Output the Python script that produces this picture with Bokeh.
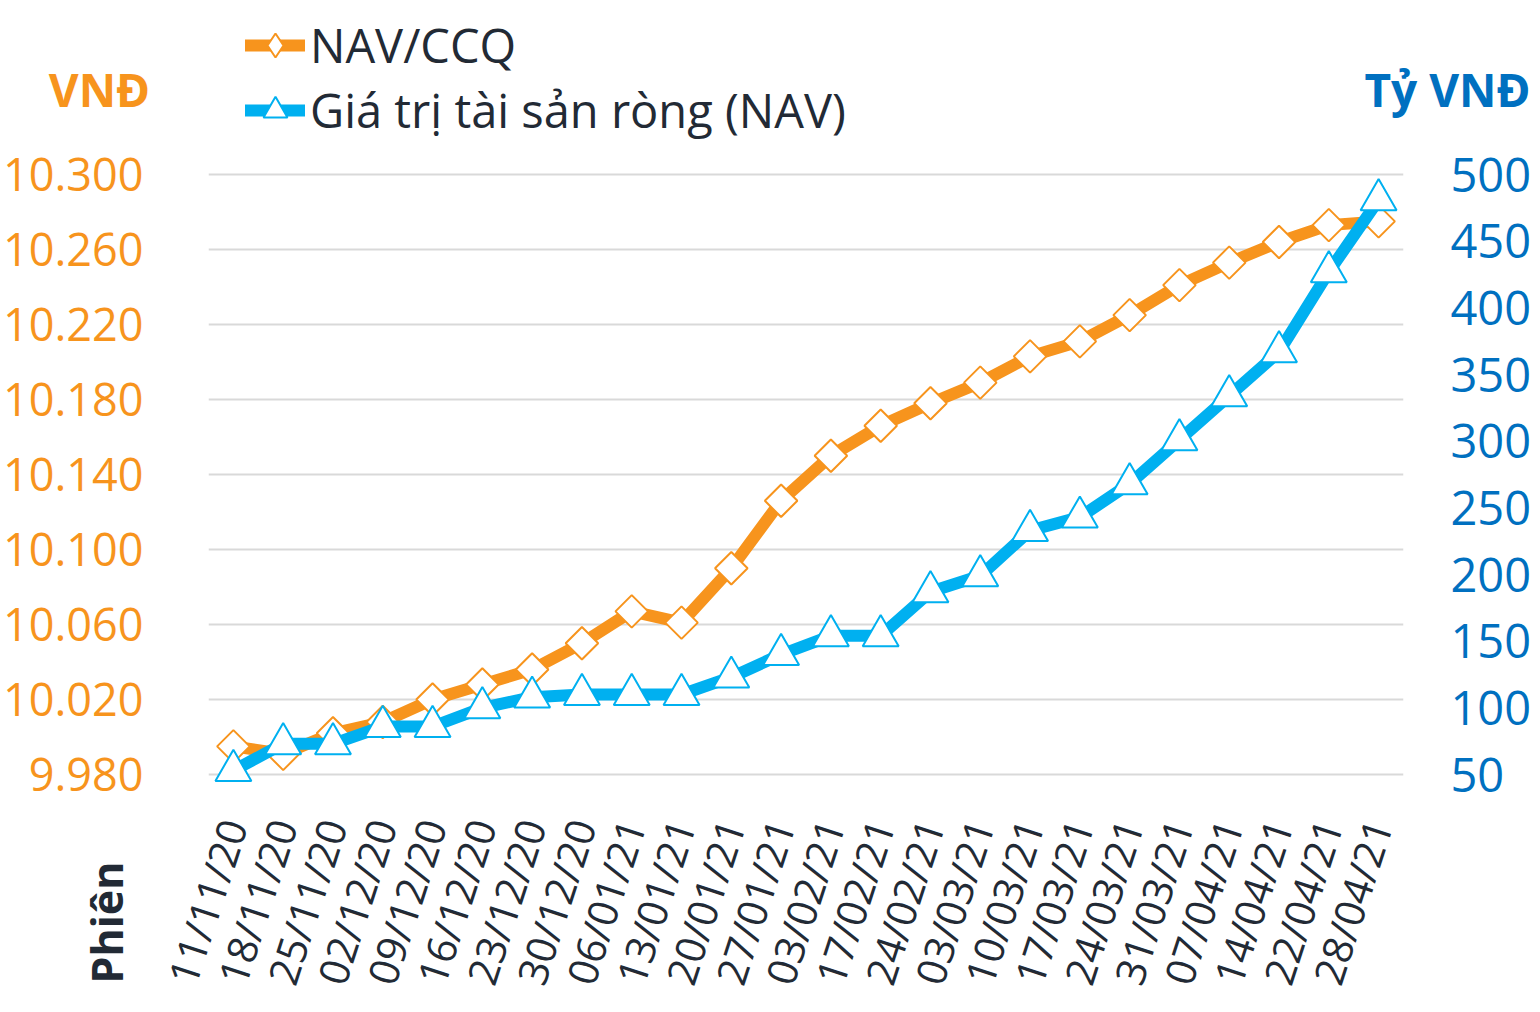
import math
from bokeh.plotting import figure
from bokeh.layouts import column, row
from bokeh.models import (Range1d, LinearAxis, FactorRange, Label, Legend,
                          LegendItem, FixedTicker, Grid)
from bokeh.embed import file_html
from bokeh.resources import INLINE

# ---------------- data ----------------
dates = ["11/11/20", "18/11/20", "25/11/20", "02/12/20", "09/12/20", "16/12/20",
         "23/12/20", "30/12/20", "06/01/21", "13/01/21", "20/01/21", "27/01/21",
         "03/02/21", "17/02/21", "24/02/21", "03/03/21", "10/03/21", "17/03/21",
         "24/03/21", "31/03/21", "07/04/21", "14/04/21", "22/04/21", "28/04/21"]
nav_per_unit = [9995, 9991, 10002, 10008, 10020, 10028, 10036, 10050, 10067, 10061,
                10090, 10126, 10150, 10166, 10178, 10189, 10203, 10211, 10225, 10241,
                10253, 10264, 10273, 10275]
nav_total = [53, 73, 73, 86, 86, 100, 108, 110, 110, 110, 123, 140, 154, 154, 187,
             199, 233, 243, 268, 301, 334, 367, 427, 481]
left_ticks = [9980, 10020, 10060, 10100, 10140, 10180, 10220, 10260, 10300]
left_tick_labels = ["9.980", "10.020", "10.060", "10.100", "10.140", "10.180",
                    "10.220", "10.260", "10.300"]
right_ticks = [50, 100, 150, 200, 250, 300, 350, 400, 450, 500]
series_names = ["NAV/CCQ", "Giá trị tài sản ròng (NAV)"]
left_title = "VNĐ"
right_title = "Tỷ VNĐ"
x_title = "Phiên"

# ---------------- style / layout sizes ----------------
ORANGE = "#F7941D"
BLUE = "#00B0F0"
DARKBLUE = "#0070C0"
TEXT = "#222a35"
FONT = "Open Sans"

H_HEAD = 142          # header strip (legend + unit titles)
T_MAIN = 8            # top border of the chart canvas
W_LEFT = 150          # left strip (left axis + "Phiên")
B_LEFT = 57           # chart's own left border
FRAME_W, FRAME_H = 1195, 650
B_RIGHT = 133
B_BOTTOM = 212
TOTAL_W = W_LEFT + B_LEFT + FRAME_W + B_RIGHT
LEFT_AXIS_H = T_MAIN + FRAME_H + 10
PHIEN_H = T_MAIN + FRAME_H + B_BOTTOM - LEFT_AXIS_H
PHIEN_TOP = 22

y_left = Range1d(9966.13, 10312.8)
y_right = Range1d(30.5, 518)


def bare(fig):
    fig.outline_line_color = None
    fig.background_fill_color = "white"
    fig.border_fill_color = "white"
    return fig


def plain_axis(ax):
    ax.axis_line_color = None
    ax.major_tick_line_color = None
    ax.minor_tick_line_color = None


# ---------------- main chart ----------------
p = bare(figure(frame_width=FRAME_W, frame_height=FRAME_H,
                x_range=FactorRange(*dates), y_range=y_left, y_axis_type=None,
                output_backend="svg", toolbar_location=None,
                min_border_left=B_LEFT, min_border_right=B_RIGHT,
                min_border_top=T_MAIN, min_border_bottom=B_BOTTOM))
p.extra_y_ranges = {"right": y_right}
p.xgrid.grid_line_color = None
p.add_layout(Grid(dimension=1, ticker=FixedTicker(ticks=left_ticks),
                  grid_line_color="#d9d9d9", grid_line_width=2))

ra = LinearAxis(y_range_name="right", ticker=FixedTicker(ticks=right_ticks))
plain_axis(ra)
ra.major_label_text_color = DARKBLUE
ra.major_label_text_font = FONT
ra.major_label_text_font_size = "47px"
ra.major_label_standoff = 41
p.add_layout(ra, "right")

xa = p.xaxis[0]
plain_axis(xa)
xa.major_label_orientation = math.radians(72)
xa.major_label_text_color = TEXT
xa.major_label_text_font = FONT
xa.major_label_text_font_size = "41px"
xa.major_label_standoff = 14

line_kw1 = dict(line_color=ORANGE, line_width=12, line_join="round", line_cap="round")
mark_kw1 = dict(marker="square", angle=math.pi / 4, size=23, fill_color="white",
                line_color=ORANGE, line_width=2)
line_kw2 = dict(line_color=BLUE, line_width=12, line_join="round", line_cap="round")
mark_kw2 = dict(marker="triangle", size=36, fill_color="white", line_color=BLUE,
                line_width=2)

p.line(dates, nav_per_unit, **line_kw1)
p.scatter(dates, nav_per_unit, **mark_kw1)
p.line(dates, nav_total, y_range_name="right", **line_kw2)
p.scatter(dates, nav_total, y_range_name="right", **mark_kw2)

# ---------------- left axis strip ----------------
la = bare(figure(frame_width=1, frame_height=FRAME_H, x_range=Range1d(0, 1),
                 y_range=y_left, x_axis_type=None, output_backend="svg",
                 toolbar_location=None, min_border_left=W_LEFT - 1,
                 min_border_right=0, min_border_top=T_MAIN,
                 min_border_bottom=LEFT_AXIS_H - FRAME_H - T_MAIN))
la.ygrid.grid_line_color = None
ya = la.yaxis[0]
plain_axis(ya)
ya.ticker = FixedTicker(ticks=left_ticks)
ya.major_label_overrides = dict(zip(left_ticks, left_tick_labels))
ya.major_label_text_color = ORANGE
ya.major_label_text_font = FONT
ya.major_label_text_font_size = "45px"
ya.major_label_standoff = 1

# ---------------- "Phiên" strip (category-axis title) ----------------
ph = bare(figure(frame_width=1, frame_height=PHIEN_H - PHIEN_TOP,
                 x_range=Range1d(0, 1), y_range=Range1d(0, 1), x_axis_type=None,
                 output_backend="svg", toolbar_location=None,
                 min_border_left=W_LEFT - 1, min_border_right=0,
                 min_border_top=PHIEN_TOP, min_border_bottom=0))
ph.ygrid.grid_line_color = None
pa = ph.yaxis[0]
plain_axis(pa)
pa.ticker = FixedTicker(ticks=[])
pa.axis_label = x_title
pa.axis_label_text_font = FONT
pa.axis_label_text_font_style = "bold"
pa.axis_label_text_font_size = "43px"
pa.axis_label_text_color = TEXT
pa.axis_label_standoff = 15

# ---------------- header: legend + axis titles ----------------
hd = bare(figure(width=TOTAL_W, height=H_HEAD, x_range=Range1d(0, TOTAL_W),
                 y_range=Range1d(0, H_HEAD), x_axis_type=None, y_axis_type=None,
                 output_backend="svg", toolbar_location=None, min_border=0))
idx = list(range(len(dates)))
leg_mark1 = dict(mark_kw1, marker="diamond", angle=0)
hl1 = hd.line(idx, nav_per_unit, visible=False, **line_kw1)
hs1 = hd.scatter(idx, nav_per_unit, visible=False, **leg_mark1)
hl2 = hd.line(idx, nav_total, visible=False, **line_kw2)
hs2 = hd.scatter(idx, nav_total, visible=False, **mark_kw2)
legend = Legend(items=[LegendItem(label=series_names[0], renderers=[hl1, hs1]),
                       LegendItem(label=series_names[1], renderers=[hl2, hs2])],
                location=(245, 0), orientation="vertical",
                glyph_width=60, glyph_height=64, label_height=64, spacing=1,
                label_standoff=5, padding=0, margin=0,
                border_line_color=None, background_fill_alpha=0,
                inactive_fill_alpha=0,
                label_text_font=FONT, label_text_font_size="47px",
                label_text_color=TEXT)
hd.add_layout(legend, "center")
hd.add_layout(Label(x=99, y=H_HEAD - 88, text=left_title, text_align="center",
                    text_baseline="middle", text_font=FONT, text_font_style="bold",
                    text_font_size="46px", text_color=ORANGE))
hd.add_layout(Label(x=1530, y=H_HEAD - 88, text=right_title,
                    text_align="right", text_baseline="middle", text_font=FONT,
                    text_font_style="bold", text_font_size="46px",
                    text_color=DARKBLUE))

layout = column(hd, row(column(la, ph), p))
open("out.html", "w").write(file_html(layout, INLINE))
